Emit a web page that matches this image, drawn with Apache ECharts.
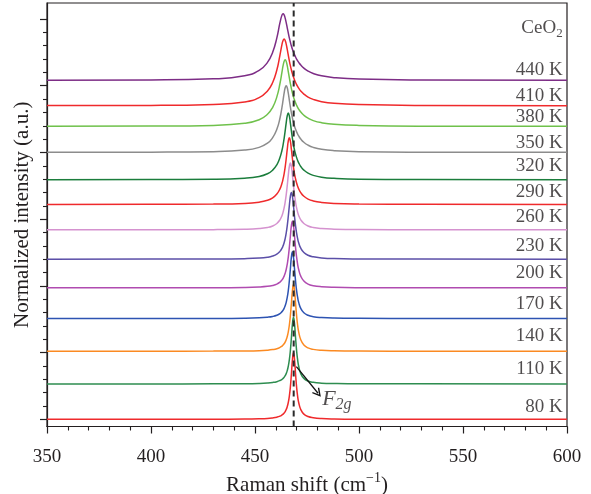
<!DOCTYPE html>
<html>
<head>
<meta charset="utf-8">
<title>CeO2 Raman F2g vs temperature</title>
<script src="https://cdn.jsdelivr.net/npm/echarts@6/dist/echarts.min.js"></script>
<style>
  html, body { margin: 0; padding: 0; background: #ffffff; }
  #chart { width: 591px; height: 494px; }
</style>
</head>
<body>
<div id="chart"></div>
<script>
// Raman shift grid (cm^-1) shared by all spectra
const shift = [350, 400, 430, 445, 452, 456, 458.5, 460.5, 462, 463, 463.5, 464, 464.5, 465, 465.5,
  466, 466.5, 467, 467.5, 468, 468.5, 469, 469.5, 470, 470.5, 471, 472, 473.5, 475.5, 478, 482, 488, 500, 530, 600];

// Normalized intensities (peak = 1) for each temperature
const i80  = [0.000, 0.000, 0.001, 0.004, 0.008, 0.013, 0.021, 0.032, 0.047, 0.065, 0.078, 0.094, 0.116, 0.146, 0.189, 0.252, 0.345, 0.483, 0.678, 0.894, 1.000, 0.894, 0.678, 0.483, 0.345, 0.252, 0.146, 0.078, 0.041, 0.023, 0.011, 0.005, 0.002, 0.001, 0.000];
const i110 = [0.000, 0.000, 0.002, 0.004, 0.008, 0.014, 0.022, 0.034, 0.051, 0.069, 0.083, 0.100, 0.123, 0.155, 0.200, 0.265, 0.360, 0.500, 0.692, 0.900, 1.000, 0.900, 0.692, 0.500, 0.360, 0.265, 0.155, 0.083, 0.044, 0.024, 0.012, 0.006, 0.002, 0.001, 0.000];
const i140 = [0.000, 0.001, 0.002, 0.005, 0.009, 0.016, 0.025, 0.038, 0.057, 0.078, 0.093, 0.112, 0.138, 0.173, 0.221, 0.291, 0.390, 0.532, 0.719, 0.911, 1.000, 0.911, 0.719, 0.532, 0.390, 0.291, 0.173, 0.093, 0.050, 0.028, 0.014, 0.007, 0.003, 0.001, 0.000];
const i170 = [0.000, 0.001, 0.002, 0.005, 0.011, 0.020, 0.031, 0.049, 0.074, 0.104, 0.125, 0.153, 0.191, 0.243, 0.316, 0.419, 0.562, 0.743, 0.920, 1.000, 0.920, 0.743, 0.562, 0.419, 0.316, 0.243, 0.153, 0.087, 0.049, 0.028, 0.015, 0.007, 0.003, 0.001, 0.000];
const i200 = [0.000, 0.001, 0.002, 0.006, 0.013, 0.023, 0.037, 0.057, 0.087, 0.120, 0.144, 0.176, 0.218, 0.275, 0.354, 0.461, 0.603, 0.774, 0.932, 1.000, 0.932, 0.774, 0.603, 0.461, 0.354, 0.275, 0.176, 0.102, 0.057, 0.033, 0.017, 0.008, 0.003, 0.001, 0.000];
const i230 = [0.000, 0.001, 0.003, 0.008, 0.016, 0.029, 0.047, 0.075, 0.117, 0.165, 0.200, 0.246, 0.308, 0.390, 0.500, 0.640, 0.800, 0.941, 1.000, 0.941, 0.800, 0.640, 0.500, 0.390, 0.308, 0.246, 0.165, 0.100, 0.059, 0.035, 0.019, 0.009, 0.004, 0.001, 0.000];
const i260 = [0.000, 0.001, 0.003, 0.009, 0.019, 0.035, 0.058, 0.095, 0.150, 0.216, 0.265, 0.329, 0.414, 0.524, 0.662, 0.815, 0.946, 1.000, 0.946, 0.815, 0.662, 0.524, 0.414, 0.329, 0.265, 0.216, 0.150, 0.095, 0.058, 0.035, 0.019, 0.010, 0.004, 0.001, 0.000];
const i290 = [0.001, 0.002, 0.006, 0.016, 0.035, 0.062, 0.099, 0.156, 0.234, 0.322, 0.383, 0.460, 0.561, 0.685, 0.825, 0.948, 1.000, 0.948, 0.825, 0.685, 0.561, 0.460, 0.383, 0.322, 0.274, 0.234, 0.177, 0.123, 0.081, 0.053, 0.031, 0.016, 0.007, 0.002, 0.000];
const i320 = [0.001, 0.003, 0.008, 0.024, 0.050, 0.091, 0.145, 0.225, 0.333, 0.447, 0.524, 0.618, 0.732, 0.854, 0.958, 1.000, 0.958, 0.854, 0.732, 0.618, 0.524, 0.447, 0.384, 0.333, 0.290, 0.255, 0.200, 0.145, 0.099, 0.066, 0.039, 0.022, 0.009, 0.003, 0.001];
const i350 = [0.001, 0.004, 0.012, 0.035, 0.076, 0.138, 0.222, 0.347, 0.513, 0.683, 0.785, 0.888, 0.969, 1.000, 0.969, 0.888, 0.785, 0.683, 0.592, 0.513, 0.448, 0.393, 0.347, 0.308, 0.275, 0.247, 0.201, 0.152, 0.109, 0.076, 0.047, 0.027, 0.012, 0.004, 0.001];
const i380 = [0.001, 0.005, 0.015, 0.046, 0.100, 0.182, 0.287, 0.443, 0.643, 0.822, 0.910, 0.975, 1.000, 0.975, 0.910, 0.822, 0.730, 0.643, 0.566, 0.500, 0.443, 0.395, 0.353, 0.318, 0.287, 0.260, 0.216, 0.167, 0.123, 0.087, 0.056, 0.032, 0.015, 0.004, 0.001];
const i410 = [0.002, 0.005, 0.019, 0.056, 0.122, 0.222, 0.349, 0.536, 0.759, 0.923, 0.979, 1.000, 0.979, 0.923, 0.844, 0.759, 0.676, 0.601, 0.536, 0.478, 0.429, 0.386, 0.349, 0.316, 0.289, 0.264, 0.222, 0.175, 0.130, 0.095, 0.061, 0.036, 0.017, 0.005, 0.001];
const i440 = [0.002, 0.007, 0.023, 0.068, 0.150, 0.270, 0.422, 0.638, 0.865, 0.982, 1.000, 0.982, 0.934, 0.865, 0.788, 0.711, 0.638, 0.573, 0.516, 0.466, 0.422, 0.384, 0.350, 0.320, 0.293, 0.270, 0.230, 0.184, 0.140, 0.104, 0.068, 0.041, 0.019, 0.006, 0.001];

// Temperatures, vertical stacking offsets and label heights (intensity units)
const temps = ['80 K', '110 K', '140 K', '170 K', '200 K', '230 K', '260 K', '290 K', '320 K', '350 K', '380 K', '410 K', '440 K'];
const spectra = [i80, i110, i140, i170, i200, i230, i260, i290, i320, i350, i380, i410, i440];
const offsets = [0.00, 0.53, 1.02, 1.51, 1.97, 2.40, 2.84, 3.22, 3.59, 4.00, 4.39, 4.70, 5.08];
const labelLevel = [0.184, 0.754, 1.248, 1.728, 2.193, 2.598, 3.033, 3.412, 3.802, 4.142, 4.537, 4.847, 5.237];
const colors = ['#ef2a2c', '#2e8d50', '#fb8a22', '#2d53b2', '#b04bb0', '#5b4fa8', '#d592cf', '#ef2a2c', '#1b7d3c', '#8c8c8c', '#6fc14b', '#ef2a2c', '#7d2d86'];

// Axis ranges and tick positions
const xMin = 350, xMax = 600, xStep = 50;
const yMin = -0.108, yMax = 6.24;
const yMajorTicks = [0, 1, 2, 3, 4, 5, 6];
const yMinorTicks = [0.2, 0.4, 0.6, 0.8, 1.2, 1.4, 1.6, 1.8, 2.2, 2.4, 2.6, 2.8, 3.2, 3.4, 3.6, 3.8,
  4.2, 4.4, 4.6, 4.8, 5.2, 5.4, 5.6, 5.8];

// Annotations
const f2gShift = 468.6;                      // reference position of the F2g mode
const arrowFrom = [469.9, 0.79], arrowTo = [480.3, 0.39];
const f2gText = [482.3, 0.30];
const labelShift = 597.9;
const titleLevel = 5.862;

const FONT = '"Liberation Serif", "Times New Roman", serif';
const INK = '#231f20';

const chart = echarts.init(document.getElementById('chart'), null, { renderer: 'canvas' });

const series = [];
spectra.forEach((vals, k) => {
  series.push({
    name: temps[k],
    type: 'line',
    xAxisIndex: 0, yAxisIndex: 0,
    data: shift.map((x, j) => [x, vals[j] + offsets[k]]),
    showSymbol: false,
    symbol: 'none',
    smooth: 0.5,
    lineStyle: { color: colors[k], width: 1.5 },
    z: 3,
    silent: true
  });
});

// dashed guide at the F2g position
series.push({
  type: 'line',
  data: [[f2gShift, yMin], [f2gShift, yMax]],
  symbol: 'none',
  lineStyle: { color: '#2a2a2a', width: 2, type: [6, 4] },
  z: 5,
  silent: true
});

// temperature labels and compound name
series.push({
  type: 'scatter',
  symbolSize: 0,
  silent: true,
  data: temps.map((t, k) => ({ name: t, value: [labelShift, labelLevel[k]] }))
    .concat([{ name: 'title', value: [labelShift, titleLevel] }]),
  label: {
    show: true,
    position: 'left',
    distance: 0,
    fontFamily: FONT,
    fontSize: 19,
    color: INK,
    formatter: p => p.name === 'title' ? '{a|CeO}{b|2}' : p.name,
    rich: {
      a: { fontFamily: FONT, fontSize: 19, color: INK, lineHeight: 24, verticalAlign: 'middle' },
      b: { fontFamily: FONT, fontSize: 13, color: INK, lineHeight: 13, verticalAlign: 'bottom' }
    }
  },
  z: 6
});

// F2g annotation with arrow
series.push({
  type: 'scatter',
  symbolSize: 0,
  silent: true,
  data: [{ name: 'F2g', value: f2gText }],
  label: {
    show: true,
    position: 'right',
    distance: 0,
    formatter: '{f|F}{s|2g}',
    rich: {
      f: { fontFamily: FONT, fontStyle: 'italic', fontSize: 22, color: INK, lineHeight: 28, verticalAlign: 'middle' },
      s: { fontFamily: FONT, fontStyle: 'italic', fontSize: 16, color: INK, lineHeight: 15, verticalAlign: 'bottom' }
    }
  },
  markLine: {
    silent: true,
    symbol: ['none', 'path://M5,0 L10,9 L8.8,10 L5,3.2 L1.2,10 L0,9 Z'],
    symbolSize: [9, 9],
    lineStyle: { color: '#111111', width: 1.3, type: 'solid' },
    label: { show: false },
    data: [[{ coord: arrowFrom }, { coord: arrowTo }]]
  },
  z: 6
});

chart.setOption({
  animation: false,
  backgroundColor: '#ffffff',
  grid: {
    left: 47, right: 24, top: 3, bottom: 67.5,
    show: true, borderColor: INK, borderWidth: 1.2,
    backgroundColor: 'transparent',
    outerBoundsMode: 'none'
  },
  xAxis: {
    type: 'value',
    min: xMin, max: xMax, interval: xStep,
    name: '{a|Raman shift (cm}{b|\u22121}{a|)}',
    nameLocation: 'middle',
    nameGap: 44,
    nameTextStyle: {
      rich: {
        a: { fontFamily: FONT, fontSize: 21, color: INK, lineHeight: 28, verticalAlign: 'middle' },
        b: { fontFamily: FONT, fontSize: 14, color: INK, lineHeight: 14, verticalAlign: 'top' }
      }
    },
    axisLine: { show: true, onZero: false, lineStyle: { color: INK, width: 1.2 } },
    axisTick: { show: true, inside: false, length: 7, lineStyle: { color: INK, width: 1.2 } },
    minorTick: { show: true, splitNumber: 5, length: 4, lineStyle: { color: INK, width: 1.1 } },
    axisLabel: { fontFamily: FONT, fontSize: 19, color: INK, margin: 21 },
    splitLine: { show: false }
  },
  yAxis: [
    {
      type: 'value',
      min: yMin, max: yMax,
      name: 'Normalized intensity (a.u.)',
      nameLocation: 'middle',
      nameGap: 14,
      nameTextStyle: { fontFamily: FONT, fontSize: 21, color: INK },
      axisLine: { show: true, onZero: false, lineStyle: { color: INK, width: 1.2 } },
      axisTick: { show: true, inside: false, length: 7, customValues: yMajorTicks, lineStyle: { color: INK, width: 1.2 } },
      axisLabel: { show: false },
      splitLine: { show: false }
    },
    {
      type: 'value',
      position: 'left',
      min: yMin, max: yMax,
      axisLine: { show: false },
      axisTick: { show: true, inside: false, length: 4, customValues: yMinorTicks, lineStyle: { color: INK, width: 1.1 } },
      axisLabel: { show: false },
      splitLine: { show: false }
    }
  ],
  series: series
});
</script>
</body>
</html>
